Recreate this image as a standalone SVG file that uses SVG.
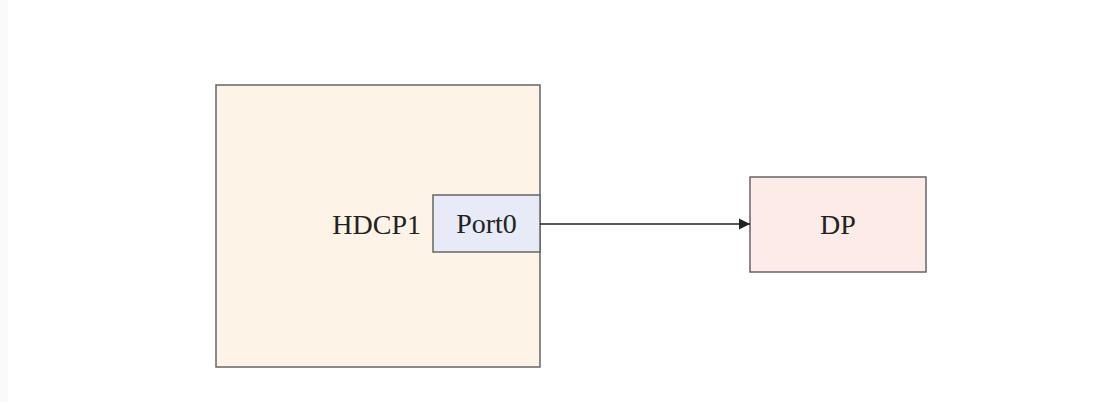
<svg xmlns="http://www.w3.org/2000/svg" width="1102" height="402" viewBox="0 0 1102 402">
<style>
.box{stroke:#666;stroke-width:1.5}
.lbl{font-family:"Liberation Serif","Times New Roman",serif;font-size:28px;fill:#222}
.edge{stroke:#222;stroke-width:1.5;fill:none}
</style>
<defs>
<marker id="arr" markerWidth="12" markerHeight="12" refX="11" refY="6" orient="auto" markerUnits="userSpaceOnUse">
<path d="M0,0.5 L11,6 L0,11.5 Z" fill="#222"/>
</marker>
</defs>
<rect x="0" y="0" width="1102" height="402" fill="#fff"/>
<rect x="0" y="0" width="8" height="402" fill="#fafafa"/>
<g id="HDCP1">
<rect class="box" x="216" y="85" width="324" height="282" fill="#fdf3e7"/>
<text class="lbl" x="421" y="234" text-anchor="end">HDCP1</text>
</g>
<g id="Port0">
<rect class="box" x="433" y="195" width="107" height="57" fill="#e6ebf7"/>
<text class="lbl" x="486.5" y="233" text-anchor="middle">Port0</text>
</g>
<g id="DP">
<rect class="box" x="750" y="177" width="176" height="95" fill="#fdebe7"/>
<text class="lbl" x="838" y="234" text-anchor="middle">DP</text>
</g>
<g id="connectors">
<line class="edge" x1="540" y1="224" x2="750" y2="224" marker-end="url(#arr)"/>
</g>
</svg>
